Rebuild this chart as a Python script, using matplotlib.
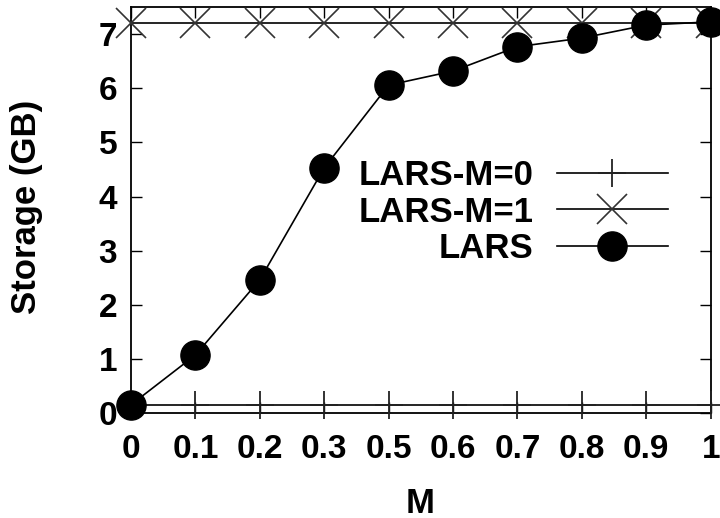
import matplotlib
matplotlib.use('Agg')
import matplotlib.pyplot as plt

plt.rcParams['font.family'] = ['Liberation Sans', 'DejaVu Sans']
plt.rcParams['font.weight'] = 'bold'

m_labels = ['0', '0.1', '0.2', '0.3', '0.5', '0.6', '0.7', '0.8', '0.9', '1']
lars_m0 = [0.15, 0.15, 0.15, 0.15, 0.15, 0.15, 0.15, 0.15, 0.15, 0.15]
lars_m1 = [7.2, 7.2, 7.2, 7.2, 7.2, 7.2, 7.2, 7.2, 7.2, 7.2]
lars = [0.15, 1.07, 2.46, 4.53, 6.06, 6.32, 6.77, 6.93, 7.17, 7.23]

pos = list(range(len(m_labels)))

fig = plt.figure(figsize=(7.2, 5.18), dpi=100)
ax = fig.add_axes([0.182, 0.203, 0.805, 0.783])

ax.plot(pos, lars_m0, color='black', lw=1.2, marker='+', ms=20, mew=1.3,
        mec='#222222', label='LARS-M=0', clip_on=False, zorder=3)
ax.plot(pos, lars_m1, color='black', lw=1.2, marker='x', ms=22, mew=1.2,
        mec='#333333', label='LARS-M=1', clip_on=False, zorder=3)
ax.plot(pos, lars, color='black', lw=1.2, marker='o', ms=21, mfc='black',
        mec='black', label='LARS', clip_on=False, zorder=4)

ax.set_xlim(0, 9)
ax.set_ylim(0, 7.5)
ax.set_xticks(pos)
ax.set_xticklabels(m_labels)
ax.set_yticks(range(8))

ax.tick_params(direction='in', top=True, right=True, length=8, width=1,
               labelsize=24)
ax.tick_params(axis='x', pad=15)
ax.tick_params(axis='y', pad=10)
for s in ax.spines.values():
    s.set_linewidth(1.3)

ax.set_xlabel('M', fontsize=25, fontweight='bold')
ax.set_ylabel('Storage (GB)', fontsize=25, fontweight='bold')
ax.xaxis.set_label_coords(0.498, -0.183)
ax.yaxis.set_label_coords(-0.152, 0.507)

ax.legend(loc='center right', bbox_to_anchor=(0.926, 0.495), frameon=False,
          markerfirst=False, fontsize=25, handlelength=3.2,
          handletextpad=0.66, labelspacing=0.1, borderpad=0,
          borderaxespad=0)

fig.savefig('out.png', dpi=100)
